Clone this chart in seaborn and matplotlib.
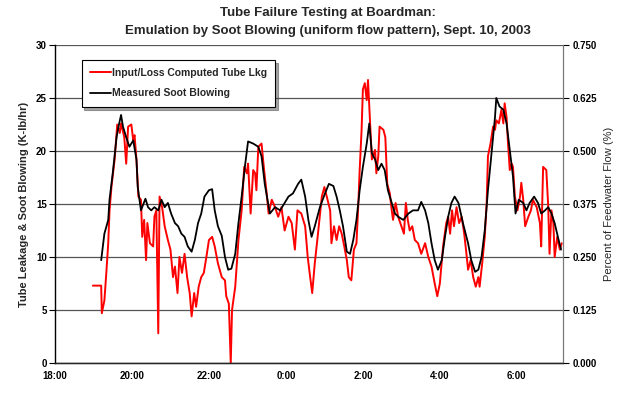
import matplotlib
matplotlib.use("Agg")
import matplotlib.pyplot as plt
import seaborn as sns
import pandas as pd
from matplotlib.ticker import FixedLocator, FuncFormatter

# minutes after 18:00 on Sept. 10, 2003
soot_min = [72, 77, 83, 85, 90, 96, 99, 103, 106, 111, 116, 122, 127, 129, 134, 141, 145, 150, 155, 161,
            166, 171, 176, 181, 187, 192, 197, 202, 207, 213, 218, 223, 228, 233, 240, 245, 249, 254, 260,
            265, 270, 275, 281, 286, 291, 296, 301, 309, 317, 322, 327, 335, 343, 351, 358, 364, 371, 379,
            384, 390, 395, 400, 405, 413, 421, 427, 434, 439, 444, 449, 455, 460, 465, 470, 475, 480, 486,
            490, 494, 499, 504, 509, 514, 519, 525, 530, 535, 543, 551, 558, 566, 571, 577, 582, 587, 592,
            597, 603, 608, 613, 618, 623, 629, 636, 644, 649, 655, 660, 665, 670, 675, 681, 686, 688, 693,
            699, 704, 709, 714, 718, 723, 730, 735, 740, 747, 753, 758, 764, 769, 774, 779, 784, 789]
soot_val = [9.7, 12.2, 13.5, 15.4, 17.9, 21.3, 22.3, 23.4, 22.3, 21.3, 20.4, 21.0, 19.2, 16.6, 14.4, 15.5,
            14.7, 14.4, 14.7, 14.4, 15.4, 14.7, 15.1, 14.1, 13.2, 12.9, 12.2, 11.9, 11.0, 10.5, 11.6, 13.2,
            14.1, 15.7, 16.3, 16.4, 14.4, 12.9, 12.0, 10.0, 8.8, 8.9, 10.3, 13.2, 15.7, 18.5, 20.9, 20.7,
            20.4, 19.5, 16.9, 14.1, 14.7, 14.4, 15.1, 15.7, 16.0, 16.9, 17.3, 15.7, 13.5, 11.9, 12.9, 14.7,
            16.0, 16.9, 16.7, 15.7, 14.4, 12.9, 10.5, 10.3, 11.6, 13.5, 16.3, 18.5, 20.7, 22.6, 19.8, 19.2,
            18.2, 18.8, 18.2, 16.3, 15.1, 14.1, 13.8, 13.5, 14.1, 14.4, 14.4, 15.2, 14.4, 13.2, 11.3, 9.7,
            8.8, 9.7, 11.9, 13.8, 15.1, 15.7, 15.1, 13.2, 11.3, 9.7, 8.6, 8.8, 10.0, 12.5, 16.3, 20.1, 23.2,
            25.0, 24.2, 23.9, 22.6, 20.1, 17.6, 14.1, 15.4, 15.1, 14.4, 15.1, 15.7, 15.1, 14.1, 14.4, 14.7,
            14.1, 13.2, 11.9, 10.7]

leak_min = [59, 72, 73, 77, 80, 83, 85, 88, 93, 97, 101, 103, 108, 111, 114, 119, 122, 124, 127, 130, 134,
            136, 139, 142, 144, 148, 153, 155, 158, 161, 163, 167, 171, 176, 180, 184, 187, 191, 194, 198,
            202, 206, 210, 213, 217, 220, 224, 228, 232, 236, 240, 245, 249, 254, 260, 265, 267, 271, 274,
            276, 281, 286, 291, 295, 299, 301, 305, 309, 312, 314, 317, 322, 326, 330, 333, 338, 343, 348,
            353, 358, 364, 369, 374, 378, 384, 390, 394, 397, 401, 405, 410, 416, 420, 429, 431, 435, 439,
            443, 447, 451, 455, 458, 462, 466, 470, 473, 475, 478, 480, 483, 486, 488, 491, 494, 499, 501,
            504, 506, 512, 515, 518, 522, 525, 527, 531, 535, 540, 544, 547, 550, 553, 557, 561, 566, 571,
            577, 582, 587, 592, 596, 600, 605, 610, 613, 616, 619, 622, 626, 630, 634, 638, 642, 644, 648,
            652, 656, 660, 662, 666, 670, 673, 675, 679, 683, 686, 688, 692, 696, 699, 701, 704, 706, 709,
            712, 714, 717, 721, 725, 727, 730, 733, 738, 742, 745, 751, 756, 758, 761, 766, 769, 771, 774,
            777, 779, 783, 787, 790]
leak_val = [7.3, 7.3, 4.7, 5.9, 8.5, 11.3, 14.4, 16.6, 19.2, 22.5, 21.7, 22.6, 21.3, 18.8, 22.3, 22.5, 21.0,
            21.5, 19.2, 15.7, 15.4, 11.9, 13.5, 9.7, 13.2, 11.3, 11.0, 13.8, 14.4, 2.8, 15.7, 14.7, 12.9,
            11.6, 10.7, 8.1, 9.1, 6.6, 10.0, 8.5, 10.3, 8.1, 6.6, 4.4, 6.6, 5.3, 7.2, 8.1, 8.5, 10.0, 11.6,
            11.9, 11.0, 9.4, 8.1, 7.8, 6.3, 5.6, 0.0, 5.0, 7.2, 11.6, 14.4, 18.5, 17.9, 18.8, 14.1, 18.2,
            17.9, 16.3, 20.4, 20.7, 18.2, 16.0, 14.1, 15.4, 14.7, 13.8, 14.7, 12.5, 13.8, 13.2, 10.7, 14.4,
            14.1, 12.9, 10.0, 8.5, 6.6, 9.4, 12.2, 15.7, 16.6, 14.4, 11.3, 12.9, 11.6, 12.9, 12.2, 11.0,
            9.7, 8.1, 7.8, 10.7, 11.3, 15.1, 18.2, 22.0, 25.8, 26.4, 24.8, 26.7, 22.9, 19.2, 20.1, 17.9,
            19.5, 22.3, 22.0, 21.3, 16.9, 16.0, 14.4, 13.5, 15.1, 13.8, 12.9, 12.2, 15.1, 13.5, 12.5, 12.9,
            11.6, 11.3, 10.3, 11.3, 10.0, 9.1, 7.5, 6.3, 7.5, 11.0, 13.2, 13.8, 12.2, 14.4, 12.9, 14.7,
            13.2, 13.8, 12.2, 10.0, 8.8, 9.7, 8.1, 7.2, 8.1, 7.2, 9.4, 11.9, 15.1, 19.5, 20.7, 22.3, 22.0,
            22.9, 22.6, 23.9, 22.6, 24.5, 23.2, 21.0, 18.2, 18.8, 18.5, 15.7, 14.4, 15.7, 17.0, 15.4, 12.9,
            13.8, 14.4, 15.4, 14.7, 13.2, 11.0, 18.5, 18.2, 14.7, 10.3, 14.4, 13.2, 10.0, 11.9, 10.7, 11.3]

tick_minutes = [0, 120, 240, 360, 480, 600, 720]
tick_labels = ["18:00", "20:00", "22:00", "0:00", "2:00", "4:00", "6:00"]
left_ticks = [0, 5, 10, 15, 20, 25, 30]
right_ticks = [0.0, 0.125, 0.25, 0.375, 0.5, 0.625, 0.75]

series_leak = "Input/Loss Computed Tube Lkg"
series_soot = "Measured Soot Blowing"

sns.set_style("white")
plt.rcParams["font.family"] = ["Liberation Sans", "DejaVu Sans"]

fig = plt.figure(figsize=(6.25, 3.98), dpi=100)
ax = fig.add_axes([55 / 625, 35 / 398, 508 / 625, 318 / 398])

df_leak = pd.DataFrame({"t": leak_min, "v": leak_val})
df_soot = pd.DataFrame({"t": soot_min, "v": soot_val})

sns.lineplot(data=df_leak, x="t", y="v", ax=ax, color="#FF0000", lw=1.4,
             label=series_leak, estimator=None, sort=False)
sns.lineplot(data=df_soot, x="t", y="v", ax=ax, color="#000000", lw=1.3,
             label=series_soot, estimator=None, sort=False)

ax.set_xlim(0, 792)
ax.set_ylim(0, 30)
ax.xaxis.set_major_locator(FixedLocator(tick_minutes))
ax.set_xticklabels(tick_labels)
ax.yaxis.set_major_locator(FixedLocator(left_ticks))
ax.set_xlabel("")
ax.set_ylabel("Tube Leakage & Soot Blowing (K-lb/hr)", fontsize=8, fontweight="bold", labelpad=5)
ax.yaxis.grid(True, color="#555555", lw=0.9)
ax.set_axisbelow(True)
ax.tick_params(axis="both", which="major", direction="out", length=4, width=0.8,
               labelsize=7, pad=2, colors="black")
for lab in ax.get_xticklabels() + ax.get_yticklabels():
    lab.set_fontweight("bold")
for side in ["left", "bottom"]:
    ax.spines[side].set_color("black")
    ax.spines[side].set_linewidth(1.0)
ax.spines["top"].set_visible(False)
ax.spines["right"].set_color("#777777")

ax2 = ax.twinx()
ax2.set_ylim(0, 0.75)
ax2.yaxis.set_major_locator(FixedLocator(right_ticks))
ax2.yaxis.set_major_formatter(FuncFormatter(lambda v, p: f"{v:.3f}"))
ax2.tick_params(axis="y", direction="out", length=4, width=0.8, labelsize=7, pad=3, colors="black")
for lab in ax2.get_yticklabels():
    lab.set_fontweight("bold")
ax2.set_ylabel("Percent of Feedwater Flow (%)", fontsize=8, labelpad=5)
ax2.spines["top"].set_visible(False)
ax2.spines["right"].set_color("#777777")
ax2.spines["left"].set_visible(False)

leg = ax.legend(loc="upper left", bbox_to_anchor=(0.042, 0.97), frameon=True, shadow=True,
                fancybox=False, edgecolor="black", fontsize=7.5, handlelength=2.0,
                labelspacing=1.0, borderpad=0.8, handletextpad=0.1)
leg.get_frame().set_linewidth(0.8)
for t in leg.get_texts():
    t.set_fontweight("bold")

fig.text(0.525, 0.968, "Tube Failure Testing at Boardman:", ha="center", va="center",
         fontsize=9.5, fontweight="bold")
fig.text(0.525, 0.921, "Emulation by Soot Blowing (uniform flow pattern), Sept. 10, 2003",
         ha="center", va="center", fontsize=9.5, fontweight="bold")

fig.savefig("out.png", dpi=100)
